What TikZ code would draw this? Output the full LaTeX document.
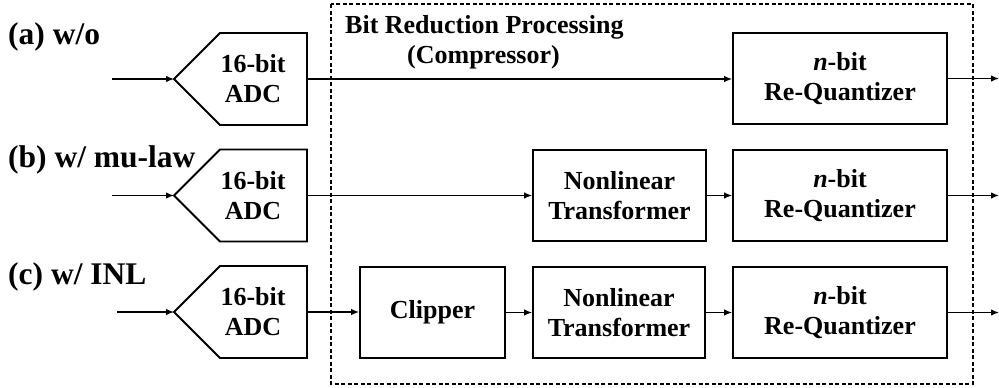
\documentclass[tikz,border=0pt]{standalone}
\usepackage{fontspec}
\setmainfont{Liberation Serif}
\usetikzlibrary{arrows.meta,calc}

\tikzset{
  boxline/.style={draw=black, line width=1.8bp},
  blk/.style={boxline, minimum height=91bp, inner sep=0pt, align=center,
    font=\fontsize{26bp}{30bp}\selectfont\bfseries},
  adctext/.style={inner sep=0pt, align=center,
    font=\fontsize{26bp}{30bp}\selectfont\bfseries},
  sig/.style={line width=1.3bp, -{Latex[length=8bp,width=6.5bp]}},
  rowlabel/.style={anchor=base west, inner sep=0pt,
    font=\fontsize{31.5bp}{36bp}\selectfont\bfseries},
  titletext/.style={anchor=base west, inner sep=0pt,
    font=\fontsize{26bp}{30bp}\selectfont\bfseries},
  frame/.style={line width=1.5bp, dash pattern=on 4bp off 2.5bp},
}

% ADC block: pentagon pointing left, text offset to the right
\newcommand{\adcunit}[2]{%
  \node[adctext] (#1) at (253,#2) {16-bit\\ADC};
  \draw[boxline, line join=miter] (220,#2-46) -- (307,#2-46) -- (307,#2+46)
    -- (220,#2+46) -- (174,#2) -- cycle;
  \coordinate (#1-in) at (174,#2);
  \coordinate (#1-out) at (307,#2);
}

\begin{document}
\begin{tikzpicture}[x=1bp, y=-1bp]
  \useasboundingbox (0,0) rectangle (999,387);

  % compressor frame
  \draw[frame] (331,4) rectangle (973,384);
  \node[titletext] (title) at (345,33) {Bit Reduction Processing};
  \node[titletext] (subtitle) at (407,63) {(Compressor)};

  % row labels
  \node[rowlabel] (labA) at (8,44) {(a) w/o};
  \node[rowlabel] (labB) at (8,167) {(b) w/ mu-law};
  \node[rowlabel] (labC) at (8,284) {(c) w/ INL};

  % ADCs
  \adcunit{adcA}{79}
  \adcunit{adcB}{195.5}
  \adcunit{adcC}{312}

  % processing blocks
  \node[blk, minimum width=214bp] (rqA) at (840,78.5) {\textit{n}-bit\\Re-Quantizer};
  \node[blk, minimum width=173bp] (ntB) at (619.5,195.5) {Nonlinear\\Transformer};
  \node[blk, minimum width=214bp] (rqB) at (840,195.5) {\textit{n}-bit\\Re-Quantizer};
  \node[blk, minimum width=145bp] (clC) at (432.5,312.5) {Clipper};
  \node[blk, minimum width=172bp] (ntC) at (619,312.5) {Nonlinear\\Transformer};
  \node[blk, minimum width=214bp] (rqC) at (840,312.5) {\textit{n}-bit\\Re-Quantizer};

  % inputs and outputs
  \coordinate (inA) at (112,79);
  \coordinate (inB) at (112,195.5);
  \coordinate (inC) at (117,312);
  \coordinate (outA) at (999,78.5);
  \coordinate (outB) at (999,195.5);
  \coordinate (outC) at (999,312.5);

  % row (a)
  \draw[sig] (inA) -- (adcA-in);
  \draw[sig] (adcA-out) -- (adcA-out -| rqA.west);
  \draw[sig] (rqA.east) -- (outA);

  % row (b)
  \draw[sig] (inB) -- (adcB-in);
  \draw[sig] (adcB-out) -- (ntB.west);
  \draw[sig] (ntB.east) -- (rqB.west);
  \draw[sig] (rqB.east) -- (outB);

  % row (c)
  \draw[sig] (inC) -- (adcC-in);
  \draw[sig] (adcC-out) -- (adcC-out -| clC.west);
  \draw[sig] (clC.east) -- (ntC.west);
  \draw[sig] (ntC.east) -- (rqC.west);
  \draw[sig] (rqC.east) -- (outC);
\end{tikzpicture}
\end{document}
